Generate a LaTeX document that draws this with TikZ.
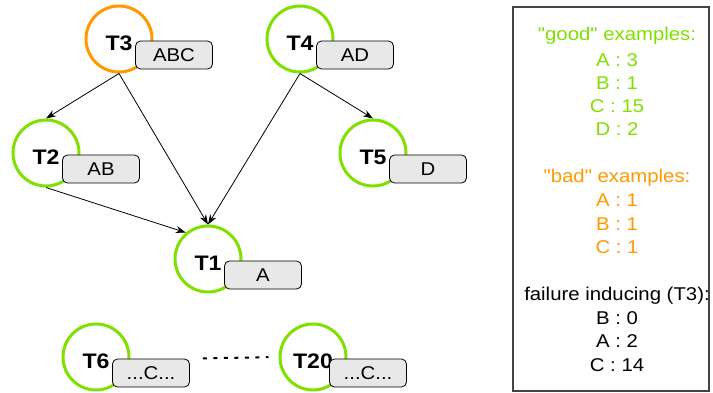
\documentclass[tikz,border=0pt]{standalone}
\usepackage{fontspec}
\setmainfont{Liberation Sans}[Ligatures=TeXOff]
\newfontfamily\largefont{Liberation Sans}[FakeStretch=1.1, Ligatures=TeXOff]
\usepackage{xcolor}
\usepackage{tikz}
\usetikzlibrary{arrows.meta}
\definecolor{vert}{HTML}{80E000}
\definecolor{orange}{HTML}{FF9900}
\definecolor{grisbox}{HTML}{E8E8E8}
\definecolor{cadre}{HTML}{444444}
\newcommand{\avecC}{...C...}

\begin{document}
\begin{tikzpicture}[x=1pt, y=-1pt,
    tnode/.style={circle, draw=vert, line width=3pt, fill=white, minimum size=66pt, inner sep=0pt,
      font=\largefont\fontsize{21}{24}\selectfont\bfseries, text height=23pt, text depth=0pt},
    tagbox/.style={draw=black, line width=0.8pt, fill=grisbox, rounded corners=5pt,
      minimum width=77pt, minimum height=28pt, inner sep=0pt, font=\largefont\fontsize{18.5}{20}\selectfont},
    fleche/.style={-{Stealth[length=10pt, width=7pt]}, line width=0.8pt}]
    \useasboundingbox (0,0) rectangle (713,393);
    % Taches et etiquettes
    \foreach \n/\x/\y/\lab/\col in {
      3/119/39/ABC/orange,
      4/300/39/AD/vert,
      2/46/153/AB/vert,
      5/373/153/D/vert,
      1/208/259/A/vert,
      6/96/357/\avecC/vert,
      20/313/357/\avecC/vert} {
      \node[tnode, draw=\col] (t\n) at (\x,\y) {T\n};
      \node[tagbox] (g\n) at (\x+55,\y+16) {\lab};
    }
    % Dependances
    \draw[fleche] (t3.south) -- (t2.north);
    \draw[fleche] (t3.south) -- (t1.north);
    \draw[fleche] (t4.south) -- (t1.north);
    \draw[fleche] (t4.south) -- (t5.north);
    \draw[fleche] (t2.south) -- (t1.130);
    \draw[line width=2pt, dash pattern=on 4pt off 6.5pt, shorten <=13pt, shorten >=10pt] (g6.north east) -- (t20.west);
    % Legende
    \draw[cadre, line width=1.2pt] (513,7) rectangle (709,391);
    \foreach \y/\txt/\col [count=\i] in {
      41/{"good" examples:}/vert, 67/{A : 3}/vert, 90/{B : 1}/vert, 113/{C : 15}/vert, 136/{D : 2}/vert,
      183/{"bad" examples:}/orange, 207/{A : 1}/orange, 230/{B : 1}/orange, 254/{C : 1}/orange,
      301/{failure inducing (T3):}/black, 324/{B : 0}/black, 347/{A : 2}/black, 371/{C : 14}/black} {
      \node[anchor=base, inner sep=0pt, text=\col, font=\largefont\fontsize{18.5}{20}\selectfont] (l\i) at (617,\y) {\txt};
    }
  \end{tikzpicture}
\end{document}
